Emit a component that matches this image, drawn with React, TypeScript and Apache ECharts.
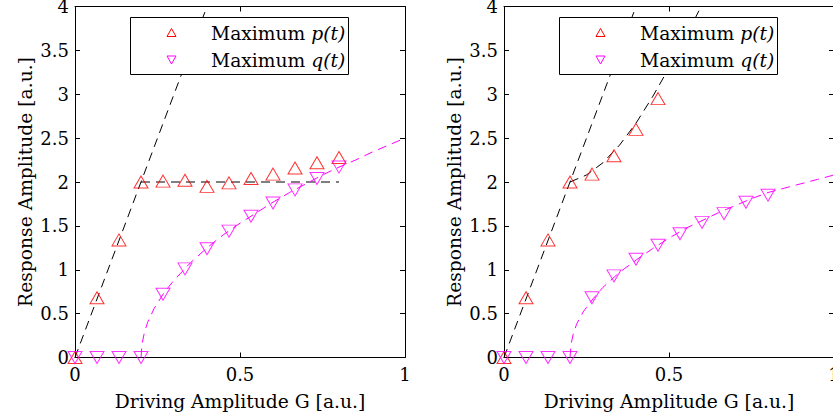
import React, { useEffect, useRef } from 'react';
import * as echarts from 'echarts';

// Driving amplitude G values (shared x positions of the markers)
const G = [0, 0.0667, 0.1333, 0.2, 0.2667, 0.3333, 0.4, 0.4667, 0.5333, 0.6, 0.6667, 0.7333, 0.8];

// Left panel measured maxima
const leftP = [0, 0.68, 1.34, 2.0, 2.01, 2.02, 1.95, 1.99, 2.04, 2.09, 2.16, 2.22, 2.28];
const leftQ = [0, 0, 0, 0, 0.72, 1.01, 1.24, 1.44, 1.61, 1.76, 1.91, 2.04, 2.17];

// Right panel measured maxima
const rightP = [0, 0.68, 1.34, 2.0, 2.09, 2.30, 2.60, 2.95];
const rightQ = [0, 0, 0, 0, 0.68, 0.93, 1.12, 1.28, 1.41, 1.54, 1.64, 1.77, 1.85];

// Dashed theory curves
const leftSteepFit = [[0, 0], [0.4, 4]];
const leftPlateauFit = [[0.2, 2], [0.8, 2]];
const leftQFit = [[0.2, 0], [0.203, 0.15], [0.21, 0.28], [0.22, 0.4], [0.24, 0.56], [0.27, 0.74], [0.3, 0.88], [0.35, 1.08], [0.4, 1.25], [0.45, 1.4], [0.5, 1.53], [0.55, 1.65], [0.6, 1.77], [0.65, 1.88], [0.7, 1.98], [0.75, 2.08], [0.8, 2.17], [0.85, 2.25], [0.9, 2.34], [0.95, 2.42], [1.0, 2.5]];
const rightSteepFit = [[0, 0], [0.4, 4]];
const rightPFit = [[0.2, 2.0], [0.25, 2.08], [0.3, 2.22], [0.35, 2.42], [0.4, 2.67], [0.45, 2.97], [0.5, 3.3], [0.55, 3.65], [0.6, 4.02]];
const rightQFit = [[0.2, 0], [0.203, 0.15], [0.21, 0.27], [0.22, 0.38], [0.24, 0.52], [0.27, 0.67], [0.3, 0.8], [0.35, 0.97], [0.4, 1.11], [0.45, 1.24], [0.5, 1.36], [0.55, 1.47], [0.6, 1.56], [0.65, 1.65], [0.7, 1.73], [0.75, 1.81], [0.8, 1.88], [0.85, 1.93], [0.9, 1.98], [0.95, 2.03], [1.0, 2.08]];

const xTicks = { min: 0, max: 1, interval: 0.5 };
const yTicks = { min: 0, max: 4, interval: 0.5 };
const legendLabels = ['Maximum {i|p(t)}', 'Maximum {i|q(t)}'];
const xTitle = 'Driving Amplitude G [a.u.]';
const yTitle = 'Response Amplitude [a.u.]';

const FONT = 'DejaVu Serif';
const TICK_FS = 18;
const TITLE_FS = 18.7;
const RED = '#ff0000';
const MAG = '#ff00ff';

const GRID_LEFTS = [75, 504];
const GRID_TOP = 6.5;
const GRID_W = 330;
const GRID_H = 351;

function zip(xs: number[], ys: number[]) {
  return ys.map((y, i) => [xs[i], y]);
}

function xAxis(gridIndex: number, position: 'top' | 'bottom', main: boolean) {
  return {
    type: 'value',
    gridIndex,
    position,
    ...xTicks,
    name: main ? xTitle : '',
    nameLocation: 'middle',
    nameGap: 34,
    nameTextStyle: { color: '#000', fontFamily: FONT, fontSize: TITLE_FS },
    axisLine: { show: true, onZero: false, lineStyle: { color: '#000', width: 1 } },
    axisTick: { show: true, inside: true, length: 5, lineStyle: { color: '#000', width: 1 } },
    axisLabel: {
      show: main,
      color: '#000',
      fontFamily: FONT,
      fontSize: TICK_FS,
      margin: 8,
      alignMinLabel: 'center',
      alignMaxLabel: 'center',
      hideOverlap: false,
    },
    splitLine: { show: false },
  };
}

function yAxis(gridIndex: number, position: 'left' | 'right', main: boolean) {
  return {
    type: 'value',
    gridIndex,
    position,
    ...yTicks,
    name: main ? yTitle : '',
    nameLocation: 'middle',
    nameGap: 40,
    nameRotate: 90,
    nameTextStyle: { color: '#000', fontFamily: FONT, fontSize: TITLE_FS },
    axisLine: { show: true, onZero: false, lineStyle: { color: '#000', width: 1 } },
    axisTick: { show: true, inside: true, length: 5, lineStyle: { color: '#000', width: 1 } },
    axisLabel: { show: main, color: '#000', fontFamily: FONT, fontSize: TICK_FS, margin: 6 },
    splitLine: { show: false },
  };
}

function dashed(data: number[][], color: string, axis: number) {
  return {
    type: 'line',
    data,
    xAxisIndex: axis,
    yAxisIndex: axis,
    showSymbol: false,
    symbol: 'none',
    silent: true,
    z: 2,
    lineStyle: { color, width: 1, type: [9, 6] },
  };
}

function markers(data: number[][], color: string, axis: number, down: boolean) {
  return {
    type: 'scatter',
    data,
    xAxisIndex: axis,
    yAxisIndex: axis,
    symbol: 'triangle',
    symbolSize: [14, 12],
    symbolRotate: down ? 180 : 0,
    silent: true,
    z: 3,
    itemStyle: { color: 'rgba(0,0,0,0)', borderColor: color, borderWidth: 1 },
  };
}

function legendText(text: string, x: number, y: number) {
  return {
    type: 'text',
    z: 101,
    x,
    y,
    style: {
      text,
      fill: '#000',
      font: `${TITLE_FS}px "${FONT}"`,
      verticalAlign: 'middle',
      rich: { i: { fontStyle: 'italic', fontFamily: FONT, fontSize: TITLE_FS, fill: '#000' } },
    },
  };
}

function legendGraphic(left: number) {
  const bx = left + 55;
  const mx = bx + 41.5;
  const tx = bx + 81;
  return {
    type: 'group',
    z: 100,
    children: [
      {
        type: 'rect',
        z: 100,
        shape: { x: bx + 0.5, y: 17.5, width: 218, height: 57 },
        style: { fill: '#fff', stroke: '#000', lineWidth: 1 },
      },
      {
        type: 'polygon',
        z: 101,
        shape: { points: [[mx - 4.5, 36.5], [mx + 4.5, 36.5], [mx, 28.5]] },
        style: { fill: 'none', stroke: RED, lineWidth: 1 },
      },
      {
        type: 'polygon',
        z: 101,
        shape: { points: [[mx - 4.5, 56], [mx + 4.5, 56], [mx, 64]] },
        style: { fill: 'none', stroke: MAG, lineWidth: 1 },
      },
      legendText(legendLabels[0], tx, 33),
      legendText(legendLabels[1], tx, 60),
    ],
  };
}

export default function App() {
  const ref = useRef<HTMLDivElement>(null);

  useEffect(() => {
    document.body.style.margin = '0';
    if (!ref.current) return;
    const chart = echarts.init(ref.current, null, { renderer: 'svg' });
    const option = {
      animation: false,
      backgroundColor: '#fff',
      textStyle: { fontFamily: FONT },
      grid: GRID_LEFTS.map((l) => ({
        left: l,
        top: GRID_TOP,
        width: GRID_W,
        height: GRID_H,
        containLabel: false,
        outerBoundsMode: 'none',
      })),
      xAxis: [xAxis(0, 'bottom', true), xAxis(0, 'top', false), xAxis(1, 'bottom', true), xAxis(1, 'top', false)],
      yAxis: [yAxis(0, 'left', true), yAxis(0, 'right', false), yAxis(1, 'left', true), yAxis(1, 'right', false)],
      series: [
        dashed(leftSteepFit, '#000', 0),
        dashed(leftPlateauFit, '#000', 0),
        dashed(leftQFit, MAG, 0),
        markers(zip(G, leftP), RED, 0, false),
        markers(zip(G, leftQ), MAG, 0, true),
        dashed(rightSteepFit, '#000', 2),
        dashed(rightPFit, '#000', 2),
        dashed(rightQFit, MAG, 2),
        markers(zip(G, rightP), RED, 2, false),
        markers(zip(G, rightQ), MAG, 2, true),
      ],
      graphic: GRID_LEFTS.map((l) => legendGraphic(l)),
    };
    chart.setOption(option as any);
    return () => chart.dispose();
  }, []);

  return <div ref={ref} style={{ width: 833, height: 420 }} />;
}
